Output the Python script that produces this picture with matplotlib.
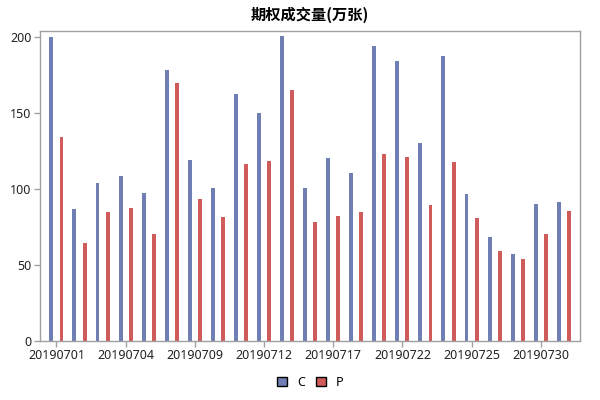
import matplotlib
matplotlib.use("Agg")
import matplotlib.pyplot as plt
import numpy as np

dates = ["20190701", "20190702", "20190703", "20190704", "20190705",
         "20190708", "20190709", "20190710", "20190711", "20190712",
         "20190715", "20190716", "20190717", "20190718", "20190719",
         "20190722", "20190723", "20190724", "20190725", "20190726",
         "20190729", "20190730", "20190731"]
c_vals = [200, 86.8, 104.2, 108.6, 97.6, 178.5, 119.3, 100.7, 162.5, 150,
          200.9, 100.9, 120.6, 110.7, 194.3, 184.4, 130.5, 187.7, 96.9, 68.6,
          57.4, 90.3, 91.6]
p_vals = [134.4, 64.7, 84.9, 87.5, 70.6, 170, 93.4, 81.6, 116.7, 118.6,
          165.4, 78.5, 82.4, 85.1, 123.2, 121.3, 89.7, 118, 81.1, 59.4,
          54.2, 70.6, 85.7]
series_names = ["C", "P"]
title = "期权成交量(万张)"

plt.rcParams['font.family'] = ['Noto Sans', 'Noto Sans CJK SC', 'DejaVu Sans']

fig = plt.figure(figsize=(6, 4), dpi=100)
ax = fig.add_axes([0.066, 0.1475, 0.901, 0.775])

x = np.arange(len(dates))
w = 0.17
off = 0.22
blue = "#6f7fb3"
red = "#cf5b5b"
ax.bar(x - off, c_vals, width=w, color=blue, label=series_names[0])
ax.bar(x + off, p_vals, width=w, color=red, label=series_names[1])

ax.set_xlim(-0.73, len(dates) - 1 + 0.71)
ax.set_ylim(0, 204)
ax.set_yticks([0, 50, 100, 150, 200])
ax.set_xticks(x[::3])
ax.set_xticklabels(dates[::3])

for s in ax.spines.values():
    s.set_color("#a0a0a0")
    s.set_linewidth(1)
ax.tick_params(axis='both', colors="#a0a0a0", labelcolor="#222222",
               labelsize=9, length=4, width=1, pad=2)

ax.set_title(title, fontsize=11, fontweight='bold',
             family=['Noto Sans CJK SC', 'DejaVu Sans'], pad=8)

leg = fig.legend(loc='lower center', bbox_to_anchor=(0.517, 0.0), ncol=2,
                 frameon=False, fontsize=9, handlelength=0.8, handleheight=0.8,
                 handletextpad=0.8, columnspacing=0.9)
for h in leg.legend_handles:
    h.set_edgecolor("#000000")
    h.set_linewidth(1)

fig.savefig("out.png", dpi=100)
